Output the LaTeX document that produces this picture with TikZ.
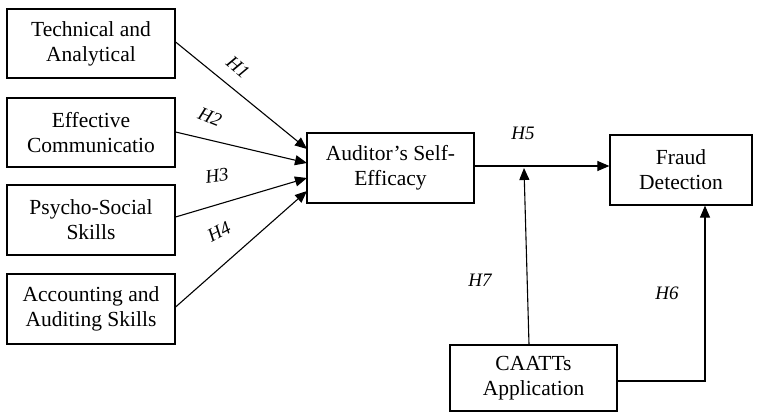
\documentclass[tikz,border=0pt]{standalone}
\usepackage{fontspec}
\setmainfont{Liberation Serif}
\usetikzlibrary{arrows.meta}
\begin{document}
\begin{tikzpicture}[x=1pt,y=-1pt,
  box/.style={draw,line width=1.2pt,inner sep=0pt,align=center,font=\fontsize{21.5}{25}\selectfont},
  conn/.style={line width=1.1pt,-{Triangle[length=12pt,width=10pt]}},
  hlab/.style={font=\fontsize{19}{20}\selectfont\itshape,inner sep=0pt}]
\useasboundingbox (0,0) rectangle (768,414);
\node[box,minimum width=168pt,minimum height=69pt] (tech) at (91,43.5) {Technical and\\Analytical};
\node[box,minimum width=168pt,minimum height=69pt] (comm) at (91,132.5) {Effective\\Communicatio};
\node[box,minimum width=168pt,minimum height=70pt] (psy) at (91,220) {Psycho-Social\\Skills};
\node[box,minimum width=168pt,minimum height=70pt] (acc) at (91,309) {Accounting and\\Auditing Skills};
\node[box,minimum width=167pt,minimum height=70pt] (ase) at (390.5,168) {Auditor’s Self-\\Efficacy};
\node[box,minimum width=142pt,minimum height=70pt] (fraud) at (681,170) {Fraud\\Detection};
\node[box,minimum width=167pt,minimum height=66pt] (caatt) at (533.5,378) {CAATTs\\Application};
\coordinate (t1) at (307,149);
\coordinate (t2) at (307,163);
\coordinate (t3) at (307,178);
\coordinate (t4) at (307,191);
\draw[conn] (tech.east |- 0,42) -- (t1);
\draw[conn] (comm.east |- 0,132) -- (t2);
\draw[conn] (psy.east |- 0,217) -- (t3);
\draw[conn] (acc.east |- 0,307) -- (t4);
\draw[conn] (ase.east |- 0,166) -- (fraud.west |- 0,166);
\coordinate (m7) at (524,168);
\draw[conn] (caatt.north -| 529,0) -- (m7);
\coordinate (c6) at (705,381);
\draw[conn] (caatt.east |- c6) -- (c6) -- (fraud.south -| c6);
\node[hlab,rotate=-40] (h1) at (238,67) {H1};
\node[hlab,rotate=-22] (h2) at (210,117) {H2};
\node[hlab,rotate=8] (h3) at (217,176) {H3};
\node[hlab,rotate=28] (h4) at (219,232) {H4};
\node[hlab] (h5) at (523,133) {H5};
\node[hlab] (h7) at (480,280) {H7};
\node[hlab] (h6) at (667,293) {H6};
\end{tikzpicture}
\end{document}
